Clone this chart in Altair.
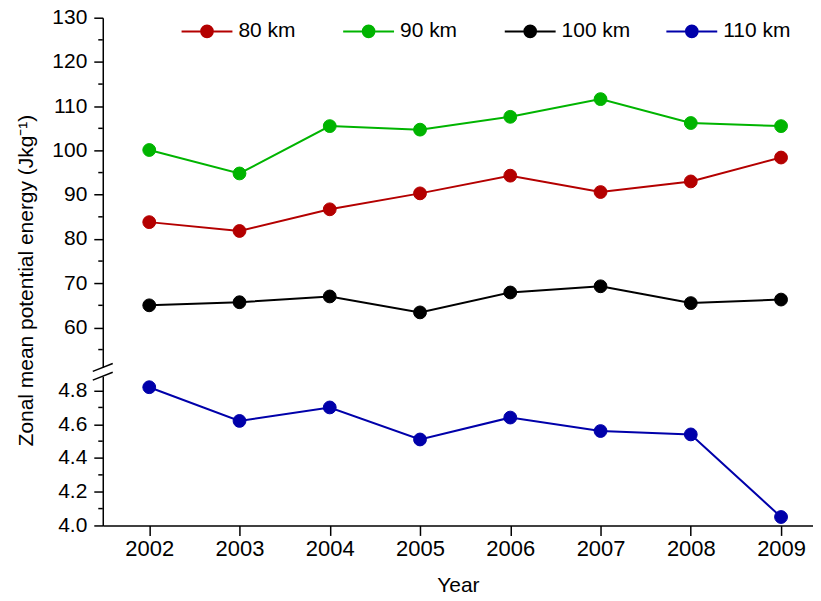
import altair as alt
import pandas as pd

# ---------------- data ----------------
years = [2002, 2003, 2004, 2005, 2006, 2007, 2008, 2009]
series_names = ["80 km", "90 km", "100 km", "110 km"]
series_colors = ["#B40000", "#00B400", "#000000", "#0000AA"]

e80 = [83.8, 81.8, 86.7, 90.3, 94.3, 90.6, 93.0, 98.4]
e90 = [100.1, 94.8, 105.5, 104.7, 107.6, 111.6, 106.2, 105.5]
e100 = [65.0, 65.7, 67.0, 63.4, 67.9, 69.3, 65.5, 66.3]
e110 = [4.82, 4.62, 4.70, 4.51, 4.64, 4.56, 4.54, 4.05]

upper_major = [60, 70, 80, 90, 100, 110, 120, 130]
upper_minor = [55, 65, 75, 85, 95, 105, 115, 125]
lower_major = [4.0, 4.2, 4.4, 4.6, 4.8]
lower_minor = [4.1, 4.3, 4.5, 4.7]

# broken-axis mapping: lower segment (4.0 .. 4.9) is mapped below the upper one
P0 = 15.25   # position of 4.0 on the common axis
K = 38.1     # common-axis units per unit of the lower segment


def lower_pos(v):
    return P0 + (v - 4.0) * K


rows = []
for name, vals in zip(series_names, [e80, e90, e100, e110]):
    for yr, v in zip(years, vals):
        rows.append({"year": yr, "series": name, "value": v})
df = pd.DataFrame(rows)

tick_values = [lower_pos(v) for v in lower_major] + upper_major
minor_df = pd.DataFrame({"pos": [lower_pos(v) for v in lower_minor] + upper_minor})
gap_df = pd.DataFrame({"pos": [48.87], "pos2": [50.89]})
slash_df = pd.DataFrame({"pos": [50.06, 48.09], "pos2": [51.85, 49.88]})

FONT = "Liberation Sans"

x_scale = alt.Scale(domain=[2001.485, 2009.354], nice=False, zero=False)
y_scale = alt.Scale(domain=[P0, 130], nice=False, zero=False)

x_axis = alt.Axis(
    values=years, format="d", grid=False, tickSize=10, tickWidth=1.5,
    domainWidth=1.5, domainColor="black", tickColor="black",
    labelFont=FONT, labelFontSize=22, labelColor="black", labelPadding=3,
    title="Year", titleFont=FONT, titleFontSize=21, titleFontWeight="normal",
    titleColor="black", titleY=66, titleBaseline="alphabetic",
)
y_axis = alt.Axis(
    values=tick_values,
    labelExpr=f"datum.value >= 50 ? format(datum.value, 'd') : format(4 + (datum.value - {P0}) / {K}, '.1f')",
    grid=False, tickSize=9, tickWidth=1.5, domainWidth=1.5,
    domainColor="black", tickColor="black",
    labelFont=FONT, labelFontSize=21, labelColor="black", labelPadding=7,
    title="Zonal mean potential energy (Jkg\u207b\u00b9)", titleFont=FONT,
    titleFontSize=21, titleFontWeight="normal", titleColor="black",
    titleAngle=-90, titleX=-70, titleY=263, titleAlign="center",
    titleBaseline="alphabetic",
)

x_enc = alt.X("year:Q", scale=x_scale, axis=x_axis)
y_enc = alt.Y("pos:Q", scale=y_scale, axis=y_axis)

col_scale = alt.Scale(domain=series_names, range=series_colors)

legend_path = ("M-1,0H-0.23M0.23,0H1M0.23,0A0.23,0.23,0,1,1,-0.23,0"
               "A0.23,0.23,0,1,1,0.23,0Z")
legend = alt.Legend(
    title=None, orient="none", direction="horizontal", legendX=78, legendY=-13,
    symbolType=legend_path, symbolSize=2601, symbolStrokeWidth=2,
    labelFont=FONT, labelFontSize=21, labelColor="black", labelOffset=5,
    columnPadding=32, gridAlign="all",
)

base = alt.Chart(df).transform_calculate(
    pos=f"datum.series == '110 km' ? {P0} + (datum.value - 4) * {K} : datum.value"
)

lines = base.mark_line(strokeWidth=2).encode(
    x=x_enc, y=y_enc,
    stroke=alt.Stroke("series:N", scale=col_scale, legend=legend),
    detail="series:N",
)
points = base.mark_point(filled=True, size=165, opacity=1, strokeWidth=1).encode(
    x=x_enc, y=y_enc,
    fill=alt.Fill("series:N", scale=col_scale, legend=legend),
    stroke=alt.Stroke("series:N", scale=col_scale, legend=legend),
)

minor = alt.Chart(minor_df).mark_rule(color="black", strokeWidth=1.5).encode(
    y=y_enc, x=alt.value(-4.5), x2=alt.value(0)
)
gap = alt.Chart(gap_df).mark_rule(color="white", strokeWidth=5).encode(
    x=alt.value(0), y=y_enc, y2="pos2:Q"
)
slashes = alt.Chart(slash_df).mark_rule(color="black", strokeWidth=1.5).encode(
    x=alt.value(-10), x2=alt.value(10), y=y_enc, y2="pos2:Q"
)

chart = alt.layer(minor, lines, points, gap, slashes).properties(
    width=712, height=509,
    autosize=alt.AutoSizeParams(type="none"),
    padding={"left": 95, "top": 9, "right": 0, "bottom": 72},
    background="white",
).configure_view(stroke=None)

chart.save("out.html", embed_options={"renderer": "svg", "actions": False})
